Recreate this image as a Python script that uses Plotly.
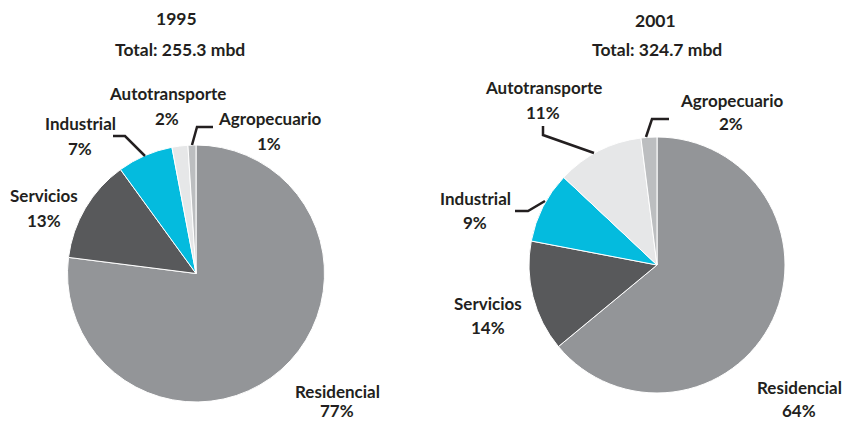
import plotly.graph_objects as go

W, H = 848, 422

sectors = ["Residencial", "Servicios", "Industrial", "Autotransporte", "Agropecuario"]
values_1995 = [77, 13, 7, 2, 1]
values_2001 = [64, 14, 9, 11, 2]
colors = ["#939598", "#58595b", "#04bbde", "#e6e7e8", "#bcbec0"]
years = ["1995", "2001"]
totals = ["Total: 255.3 mbd", "Total: 324.7 mbd"]

FONT = "Lato"
TXT = "#231f20"


def px(x):
    return x / W


def py(y):
    return 1 - y / H


fig = go.Figure()

domains = [
    dict(x=[px(67.5), px(324.5)], y=[py(402), py(145)]),
    dict(x=[px(529), px(785)], y=[py(393), py(137)]),
]

for vals, dom in zip([values_1995, values_2001], domains):
    fig.add_trace(go.Pie(
        labels=sectors, values=vals, sort=False, direction="clockwise",
        rotation=0, textinfo="none", hoverinfo="label+percent",
        marker=dict(colors=colors, line=dict(color="white", width=1)),
        domain=dom, showlegend=False,
    ))

annotations = []


def txt(x, y, s, size=17):
    annotations.append(dict(x=px(x), y=py(y), xref="paper", yref="paper",
                            text=s, showarrow=False, xanchor="center",
                            yanchor="middle",
                            font=dict(family=FONT, size=size, color=TXT,
                                      weight="bold")))


# titles
txt(176, 19, years[0], 17.5)
txt(180, 49, totals[0], 17.5)
txt(655, 20, years[1], 17.5)
txt(657, 49, totals[1], 17.5)

# label positions (name, pct) for each pie
pos_1995 = {
    "Residencial": (337, 391, 410),
    "Servicios": (44, 195, 220),
    "Industrial": (80, 123, 148),
    "Autotransporte": (167, 93, 118),
    "Agropecuario": (269, 118, 143),
}
pos_2001 = {
    "Residencial": (799, 387, 410),
    "Servicios": (488, 303, 327),
    "Industrial": (475, 198, 222),
    "Autotransporte": (543, 88, 112),
    "Agropecuario": (731, 100, 124),
}
for vals, pos in [(values_1995, pos_1995), (values_2001, pos_2001)]:
    for name, v in zip(sectors, vals):
        x, y1, y2 = pos[name]
        txt(x, y1, name)
        txt(x, y2, f"{v}%")

# leader lines
leaders = [
    [(113, 136), (125, 136), (145, 156)],
    [(213, 127), (197, 127), (192, 145)],
    [(543, 126), (543, 135), (594, 153)],
    [(669, 119), (652, 119), (646, 137)],
    [(515, 211), (528, 211), (545, 201)],
]
shapes = []
for pts in leaders:
    path = "M " + " L ".join(f"{px(x)},{py(y)}" for x, y in pts)
    shapes.append(dict(type="path", xref="paper", yref="paper", path=path,
                       line=dict(color=TXT, width=2.5)))

fig.update_layout(
    width=W, height=H,
    margin=dict(l=0, r=0, t=0, b=0),
    paper_bgcolor="white", plot_bgcolor="white",
    annotations=annotations, shapes=shapes,
    font=dict(family=FONT, color=TXT),
)

fig.write_html(
    "out.html",
    config={"displayModeBar": False},
    post_script="document.body.style.margin='0';document.body.style.overflow='hidden';",
)
